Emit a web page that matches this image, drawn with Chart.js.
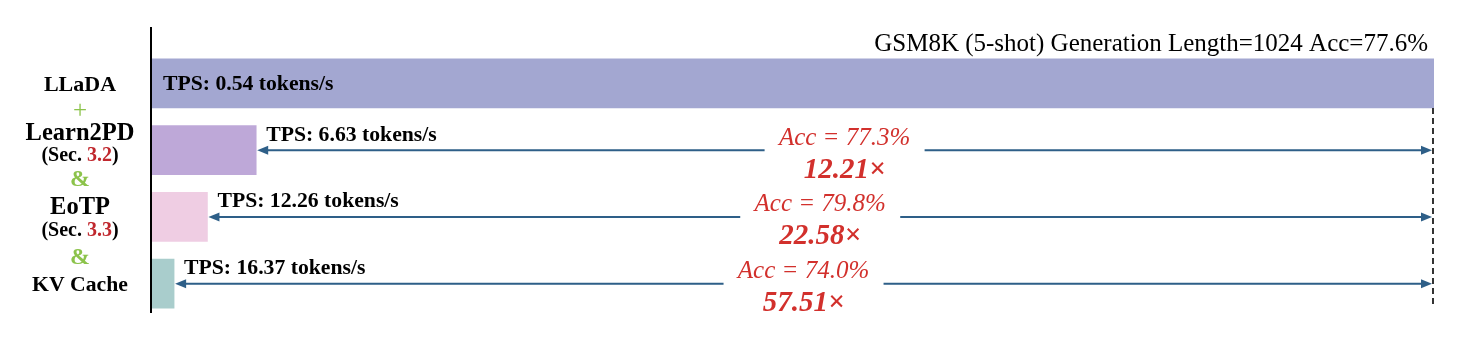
<!DOCTYPE html>
<html>
<head>
<meta charset="utf-8">
<script src="https://cdn.jsdelivr.net/npm/chart.js@4.4.1/dist/chart.umd.min.js"></script>
<style>
  html, body { margin: 0; padding: 0; background: #fff; }
  #wrap { width: 1477px; height: 362px; }
</style>
</head>
<body>
<div id="wrap"><canvas id="speedChart" width="1477" height="362"></canvas></div>
<script>
// relative generation time (% of LLaDA baseline)
const methods = ["LLaDA", "Learn2PD", "EoTP", "KV Cache"];
const relTime = [100, 8.2, 4.4, 1.8];
const tpsLabels = ["TPS: 0.54 tokens/s", "TPS: 6.63 tokens/s", "TPS: 12.26 tokens/s", "TPS: 16.37 tokens/s"];
const accLabels = [null, "Acc = 77.3%", "Acc = 79.8%", "Acc = 74.0%"];
const speedups = [null, "12.21×", "22.58×", "57.51×"];
const barColors = ["#a3a7d1", "#bea8d8", "#efcde3", "#a9cdcc"];
const titleText = "GSM8K (5-shot) Generation Length=1024 Acc=77.6%";

const SERIF = "'Liberation Serif', 'DejaVu Serif', serif";
const ARROW = "#2e5f88";
const RED = "#d2302c";
const GREEN = "#8cc34b";

function arrowHead(ctx, x, y, dir) {
  ctx.beginPath();
  ctx.moveTo(x, y);
  ctx.lineTo(x - dir * 11, y - 4.5);
  ctx.lineTo(x - dir * 11, y + 4.5);
  ctx.closePath();
  ctx.fill();
}

const overlay = {
  id: "overlay",
  afterDatasetsDraw(chart) {
    const ctx = chart.ctx;
    const area = chart.chartArea;
    const bars = chart.getDatasetMeta(0).data;
    const xEnd = chart.scales.x.getPixelForValue(relTime[0]);
    ctx.save();

    // left axis line
    ctx.strokeStyle = "#000";
    ctx.lineWidth = 2;
    ctx.beginPath();
    ctx.moveTo(area.left, 27);
    ctx.lineTo(area.left, 313);
    ctx.stroke();

    // title
    ctx.fillStyle = "#000";
    ctx.font = "25px " + SERIF;
    ctx.textAlign = "right";
    ctx.textBaseline = "middle";
    ctx.fillText(titleText, xEnd - 6, 44);

    // dashed reference line at baseline end
    ctx.setLineDash([6, 4]);
    ctx.lineWidth = 1.6;
    ctx.beginPath();
    ctx.moveTo(xEnd - 1, bars[0].y + bars[0].height / 2);
    ctx.lineTo(xEnd - 1, 306);
    ctx.stroke();
    ctx.setLineDash([]);

    // TPS label in first bar
    ctx.textAlign = "left";
    ctx.font = "bold 21.7px " + SERIF;
    ctx.fillText(tpsLabels[0], area.left + 12, bars[0].y + 1);

    for (let i = 1; i < bars.length; i++) {
      const b = bars[i];
      const x0 = b.x + 1;
      const x1 = xEnd - 2;
      const y = b.y;
      const mid = (x0 + x1) / 2;
      const gap = 80;

      ctx.fillStyle = "#000";
      ctx.textAlign = "left";
      ctx.font = "bold 21.7px " + SERIF;
      ctx.fillText(tpsLabels[i], b.x + 10, y - 15);

      ctx.strokeStyle = ARROW;
      ctx.fillStyle = ARROW;
      ctx.lineWidth = 2;
      ctx.beginPath();
      ctx.moveTo(x0 + 8, y);
      ctx.lineTo(mid - gap, y);
      ctx.moveTo(mid + gap, y);
      ctx.lineTo(x1 - 8, y);
      ctx.stroke();
      arrowHead(ctx, x0, y, -1);
      arrowHead(ctx, x1, y, 1);

      ctx.fillStyle = RED;
      ctx.textAlign = "center";
      ctx.font = "italic 25px " + SERIF;
      ctx.fillText(accLabels[i], mid, y - 12);
      ctx.font = "italic bold 29px " + SERIF;
      ctx.fillText(speedups[i], mid, y + 20);
    }

    // left labels
    const cx = 80;
    ctx.textAlign = "center";
    const line = (txt, y, font, color) => {
      ctx.font = font;
      ctx.fillStyle = color;
      ctx.fillText(txt, cx, y);
    };
    const sec = (num, y) => {
      ctx.font = "bold 20px " + SERIF;
      const parts = ["(Sec. ", num, ")"];
      const widths = parts.map(p => ctx.measureText(p).width);
      let x = cx - (widths[0] + widths[1] + widths[2]) / 2;
      ctx.textAlign = "left";
      parts.forEach((p, k) => {
        ctx.fillStyle = k === 1 ? "#c0272d" : "#000";
        ctx.fillText(p, x, y);
        x += widths[k];
      });
      ctx.textAlign = "center";
    };
    line(methods[0], 85, "bold 22px " + SERIF, "#000");
    line("+", 111, "25px " + SERIF, GREEN);
    line(methods[1], 134, "bold 24.5px " + SERIF, "#000");
    sec("3.2", 156);
    line("&", 180, "bold 24px " + SERIF, GREEN);
    line(methods[2], 208, "bold 24.5px " + SERIF, "#000");
    sec("3.3", 231);
    line("&", 258, "bold 24px " + SERIF, GREEN);
    line(methods[3], 285, "bold 21.7px " + SERIF, "#000");

    ctx.restore();
  }
};

new Chart(document.getElementById("speedChart"), {
  type: "bar",
  data: {
    labels: methods,
    datasets: [{
      data: relTime,
      backgroundColor: barColors,
      borderWidth: 0,
      barThickness: 49
    }]
  },
  options: {
    indexAxis: "y",
    responsive: false,
    animation: false,
    layout: { padding: { left: 151, right: 43, top: 50, bottom: 45 } },
    plugins: { legend: { display: false }, tooltip: { enabled: false } },
    scales: {
      x: { display: false, min: 0, max: 100 },
      y: { display: false }
    }
  },
  plugins: [overlay]
});
</script>
</body>
</html>
